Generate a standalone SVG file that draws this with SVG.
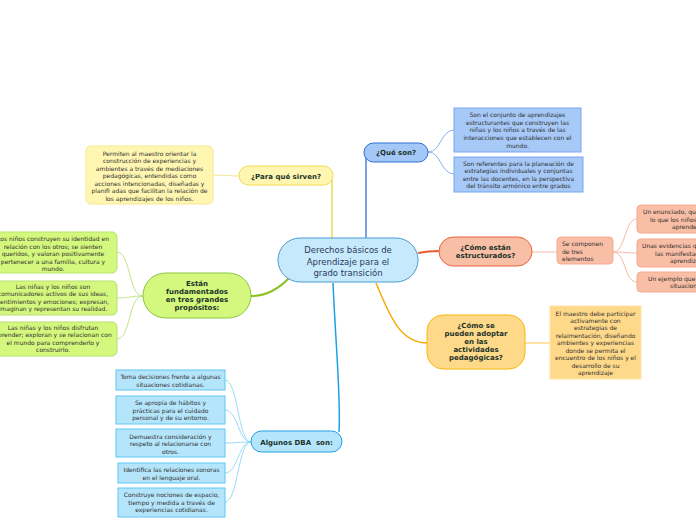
<svg xmlns="http://www.w3.org/2000/svg" width="696" height="520" viewBox="0 0 696 520">
<style>
text{font-family:"DejaVu Sans","Liberation Sans",sans-serif;}
.t{font-size:6px;fill:#2e2e2e;text-anchor:middle;}
.tl{font-size:6px;fill:#2e2e2e;text-anchor:start;}
.b{font-size:7px;font-weight:bold;fill:#1a3329;text-anchor:middle;}
.c{font-size:8.5px;fill:#2a3a5c;text-anchor:middle;}
.con{fill:none;}
.thin{fill:none;stroke-width:0.9;}
</style>
<rect width="696" height="520" fill="#ffffff"/>
<g id="connectors">
  <path class="con" d="M332,239 L332,182 Q332,176 330,176" stroke="#efd31c" stroke-width="1.2"/>
  <path class="con" d="M366,239 L366,158 Q366,152 368,152" stroke="#2366d1" stroke-width="1.2"/>
  <path class="con" d="M289,278 Q272,296 251,296" stroke="#8cc21f" stroke-width="2"/>
  <path class="con" d="M418,253 Q428,251 440,251" stroke="#ea5a2c" stroke-width="2"/>
  <path class="con" d="M376,283 C392,322 402,343 428,343" stroke="#f5ab0a" stroke-width="1.5"/>
  <path class="con" d="M333,283 C336,350 341,400 339,432" stroke="#1ea0e6" stroke-width="1.5"/>
  <path class="thin" d="M239,176 L213,175" stroke="#f2e38a"/>
  <path class="thin" d="M428,152 C441,152 441,130 454,130" stroke="#7aa8ee"/>
  <path class="thin" d="M428,152 C441,152 441,174 454,174" stroke="#7aa8ee"/>
  <path class="thin" d="M143,296 C128,296 131,252 117,252" stroke="#b9e27a"/>
  <path class="thin" d="M143,296 C130,296 130,298 117,298" stroke="#b9e27a"/>
  <path class="thin" d="M143,296 C128,296 131,339 117,339" stroke="#b9e27a"/>
  <path class="thin" d="M532,252 L557,252" stroke="#f7b29a"/>
  <path class="thin" d="M613,252 C626,252 624,219 637,219" stroke="#f7b29a"/>
  <path class="thin" d="M613,252 C625,252 625,253 637,253" stroke="#f7b29a"/>
  <path class="thin" d="M613,252 C626,252 624,282 637,282" stroke="#f7b29a"/>
  <path class="con" d="M525,343 L550,343" stroke="#ffe3a6" stroke-width="2"/>
  <path class="thin" d="M251,442 C238,442 238,380 225,380" stroke="#8fd6f5"/>
  <path class="thin" d="M251,442 C238,442 238,410 225,410" stroke="#8fd6f5"/>
  <path class="thin" d="M251,442 C238,442 238,443 225,443" stroke="#8fd6f5"/>
  <path class="thin" d="M251,442 C238,442 238,473 225,473" stroke="#8fd6f5"/>
  <path class="thin" d="M251,442 C238,442 238,502 225,502" stroke="#8fd6f5"/>
</g>
<g id="center">
  <rect x="278" y="238" width="140" height="44" rx="22" fill="#c6e9fb" stroke="#4b9bd6" stroke-width="1"/>
  <text class="c" x="348" y="253">Derechos básicos de</text>
  <text class="c" x="348" y="265">Aprendizaje para el</text>
  <text class="c" x="348" y="276">grado transición</text>
</g>
<g id="para">
  <rect x="239" y="166" width="94" height="19" rx="9.5" fill="#fff6b2" stroke="#f2dc4c" stroke-width="1"/>
  <text class="b" x="286" y="178.5">¿Para qué sirven?</text>
</g>
<g id="para-box">
  <rect x="86" y="146" width="127" height="58" rx="5" fill="#fff6b2" stroke="#f7e88e" stroke-width="1"/>
  <text class="t" x="149.5" y="155.5">Permiten al maestro orientar la</text>
  <text class="t" x="149.5" y="163">construcción de experiencias y</text>
  <text class="t" x="149.5" y="170.7">ambientes a través de mediaciones</text>
  <text class="t" x="149.5" y="178.2">pedagógicas, entendidas como</text>
  <text class="t" x="149.5" y="185.8">acciones intencionadas, diseñadas y</text>
  <text class="t" x="149.5" y="193.4">planifi adas que facilitan la relación de</text>
  <text class="t" x="149.5" y="201">los aprendizajes de los niños.</text>
</g>
<g id="que">
  <rect x="364" y="143" width="64" height="19" rx="9.5" fill="#a3c8f7" stroke="#2c6fd4" stroke-width="1"/>
  <text class="b" x="396" y="155">¿Qué son?</text>
</g>
<g id="que-box1">
  <rect x="454" y="108" width="127" height="44" fill="#a6c9f8" stroke="#78a7ee" stroke-width="1"/>
  <text class="t" x="517.5" y="117.2">Son el conjunto de aprendizajes</text>
  <text class="t" x="517.5" y="124.8">estructurantes que construyen las</text>
  <text class="t" x="517.5" y="132.4">niñas y los niños a través de las</text>
  <text class="t" x="517.5" y="140">interacciones que establecen con el</text>
  <text class="t" x="517.5" y="147.6">mundo.</text>
</g>
<g id="que-box2">
  <rect x="454" y="157" width="129" height="35" fill="#a6c9f8" stroke="#78a7ee" stroke-width="1"/>
  <text class="t" x="518.5" y="165.5">Son referentes para la planeación de</text>
  <text class="t" x="518.5" y="173.1">estrategias individuales y conjuntas</text>
  <text class="t" x="518.5" y="180.7">entre las docentes, en la perspectiva</text>
  <text class="t" x="518.5" y="188.3">del tránsito armónico entre grados</text>
</g>
<g id="estan">
  <rect x="143" y="273" width="108" height="45" rx="22.5" fill="#d4f77e" stroke="#8cc63f" stroke-width="1"/>
  <text class="b" x="197" y="285.5">Están</text>
  <text class="b" x="197" y="293.5">fundamentados</text>
  <text class="b" x="197" y="301.5">en tres grandes</text>
  <text class="b" x="197" y="310">propósitos:</text>
</g>
<g id="estan-box1">
  <rect x="-12" y="232" width="129" height="41" rx="5" fill="#d4f77e" stroke="#b7e06e" stroke-width="1"/>
  <text class="t" x="53" y="241">Los niños construyen su identidad en</text>
  <text class="t" x="53" y="248.6">relación con los otros; se sienten</text>
  <text class="t" x="53" y="256.2">queridos, y valoran positivamente</text>
  <text class="t" x="53" y="263.8">pertenecer a una familia, cultura y</text>
  <text class="t" x="53" y="271.2">mundo.</text>
</g>
<g id="estan-box2">
  <rect x="-12" y="281" width="129" height="34" rx="5" fill="#d4f77e" stroke="#b7e06e" stroke-width="1"/>
  <text class="t" x="53" y="288.8">Las niñas y los niños son</text>
  <text class="t" x="53" y="296.3">comunicadores activos de sus ideas,</text>
  <text class="t" x="53" y="303.9">sentimientos y emociones; expresan,</text>
  <text class="t" x="53" y="311.3">imaginan y representan su realidad.</text>
</g>
<g id="estan-box3">
  <rect x="-12" y="322" width="129" height="34" rx="5" fill="#d4f77e" stroke="#b7e06e" stroke-width="1"/>
  <text class="t" x="53" y="329.5">Las niñas y los niños disfrutan</text>
  <text class="t" x="53" y="337.1">aprender; exploran y se relacionan con</text>
  <text class="t" x="53" y="344.7">el mundo para comprenderlo y</text>
  <text class="t" x="53" y="352.2">construirlo.</text>
</g>
<g id="como">
  <rect x="439" y="237" width="93" height="29" rx="14.5" fill="#f9bea6" stroke="#e8633a" stroke-width="1"/>
  <text class="b" x="485.5" y="249.5">¿Cómo están</text>
  <text class="b" x="485.5" y="258">estructurados?</text>
</g>
<g id="como-box">
  <rect x="557" y="237" width="56" height="27" rx="4" fill="#f9bea6" stroke="#f5a98c" stroke-width="1"/>
  <text class="tl" x="562" y="246">Se componen</text>
  <text class="tl" x="562" y="253.5">de tres</text>
  <text class="tl" x="562" y="261">elementos</text>
</g>
<g id="como-r1">
  <rect x="637" y="205" width="80" height="28" rx="4" fill="#f9bea6" stroke="#f5a98c" stroke-width="1"/>
  <text class="tl" x="643" y="214">Un enunciado, que</text>
  <text class="tl" x="650" y="221.6">lo que los niños</text>
  <text class="tl" x="672" y="229.2">aprenden</text>
</g>
<g id="como-r2">
  <rect x="637" y="239" width="80" height="28" rx="4" fill="#f9bea6" stroke="#f5a98c" stroke-width="1"/>
  <text class="tl" x="642" y="248">Unas evidencias que</text>
  <text class="tl" x="655" y="255.6">las manifestaciones</text>
  <text class="tl" x="670" y="263.2">aprendizaje</text>
</g>
<g id="como-r3">
  <rect x="637" y="272" width="80" height="20" rx="4" fill="#f9bea6" stroke="#f5a98c" stroke-width="1"/>
  <text class="tl" x="648" y="280.5">Un ejemplo que</text>
  <text class="tl" x="670" y="288">situaciones</text>
</g>
<g id="adoptar">
  <rect x="427" y="315" width="98" height="54" rx="16" fill="#ffd98a" stroke="#f6b80c" stroke-width="1"/>
  <text class="b" x="476" y="328">¿Cómo se</text>
  <text class="b" x="476" y="336">pueden adoptar</text>
  <text class="b" x="476" y="344">en las</text>
  <text class="b" x="476" y="352.2">actividades</text>
  <text class="b" x="476" y="360.4">pedagógicas?</text>
</g>
<g id="adoptar-box">
  <rect x="550" y="306" width="91" height="73" fill="#ffd98a" stroke="#ffe3a6" stroke-width="1"/>
  <text class="t" x="595.5" y="315.5">El maestro debe participar</text>
  <text class="t" x="595.5" y="322.9">activamente con</text>
  <text class="t" x="595.5" y="330.2">estrategias de</text>
  <text class="t" x="595.5" y="337.5">relaimentación, diseñando</text>
  <text class="t" x="595.5" y="345">ambientes y experiencias</text>
  <text class="t" x="595.5" y="352.8">donde se permita el</text>
  <text class="t" x="595.5" y="360.2">encuentro de los niños y el</text>
  <text class="t" x="595.5" y="368">desarrollo de su</text>
  <text class="t" x="595.5" y="375.4">aprendizaje</text>
</g>
<g id="dba">
  <rect x="251" y="431" width="91" height="21" rx="10.5" fill="#b5e5fb" stroke="#1e9fe3" stroke-width="1"/>
  <text class="b" x="296.5" y="444.5">Algunos DBA&#160; son:</text>
</g>
<g id="dba-1">
  <rect x="116" y="370" width="109" height="20" fill="#b5e5fb" stroke="#5cc6f3" stroke-width="1"/>
  <text class="t" x="170.5" y="379.3">Toma decisiones frente a algunas</text>
  <text class="t" x="170.5" y="386.8">situaciones cotidianas.</text>
</g>
<g id="dba-2">
  <rect x="116" y="396" width="109" height="28" fill="#b5e5fb" stroke="#5cc6f3" stroke-width="1"/>
  <text class="t" x="170.5" y="405.4">Se apropia de hábitos y</text>
  <text class="t" x="170.5" y="412.8">prácticas para el cuidado</text>
  <text class="t" x="170.5" y="420.2">personal y de su entorno.</text>
</g>
<g id="dba-3">
  <rect x="116" y="429" width="109" height="28" fill="#b5e5fb" stroke="#5cc6f3" stroke-width="1"/>
  <text class="t" x="170.5" y="438.8">Demuestra consideración y</text>
  <text class="t" x="170.5" y="446.2">respeto al relacionarse con</text>
  <text class="t" x="170.5" y="453.5">otros.</text>
</g>
<g id="dba-4">
  <rect x="118" y="463" width="107" height="20" fill="#b5e5fb" stroke="#5cc6f3" stroke-width="1"/>
  <text class="t" x="171.5" y="472">Identifica las relaciones sonoras</text>
  <text class="t" x="171.5" y="479.7">en el lenguaje oral.</text>
</g>
<g id="dba-5">
  <rect x="118" y="488" width="107" height="29" fill="#b5e5fb" stroke="#5cc6f3" stroke-width="1"/>
  <text class="t" x="171.5" y="497.2">Construye nociones de espacio,</text>
  <text class="t" x="171.5" y="504.8">tiempo y medida a través de</text>
  <text class="t" x="171.5" y="512.3">experiencias cotidianas.</text>
</g>
</svg>
